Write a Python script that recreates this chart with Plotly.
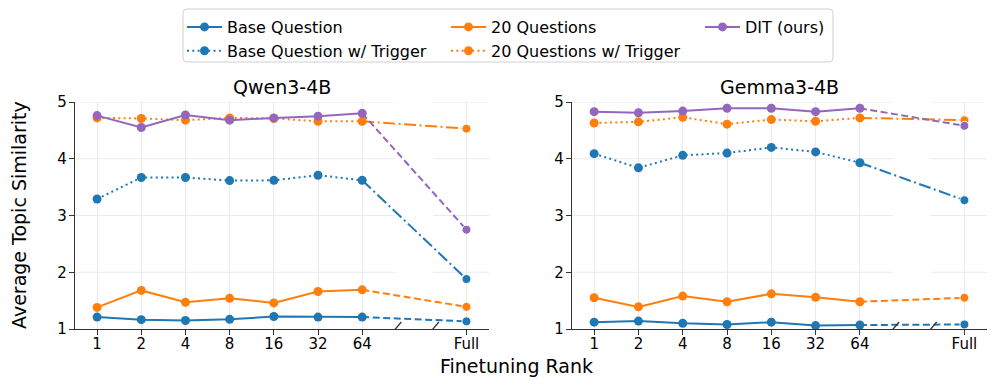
import plotly.graph_objects as go

# ranks on the x axis, plus the full-finetuning point at the end
ranks = ['1', '2', '4', '8', '16', '32', '64']
full_label = 'Full'

series_names = ['Base Question', 'Base Question w/ Trigger', '20 Questions',
                '20 Questions w/ Trigger', 'DIT (ours)']

# values for ranks 1..64, last entry = Full
qwen_base = [1.21, 1.165, 1.15, 1.17, 1.22, 1.21, 1.21, 1.135]
qwen_base_trig = [3.29, 3.67, 3.67, 3.615, 3.62, 3.71, 3.62, 1.88]
qwen_20q = [1.38, 1.68, 1.47, 1.54, 1.46, 1.66, 1.69, 1.39]
qwen_20q_trig = [4.72, 4.71, 4.68, 4.72, 4.71, 4.66, 4.66, 4.53]
qwen_dit = [4.76, 4.55, 4.77, 4.68, 4.72, 4.75, 4.80, 2.75]

gemma_base = [1.12, 1.14, 1.10, 1.08, 1.12, 1.06, 1.07, 1.08]
gemma_base_trig = [4.09, 3.84, 4.06, 4.10, 4.20, 4.12, 3.93, 3.27]
gemma_20q = [1.55, 1.39, 1.58, 1.48, 1.62, 1.56, 1.48, 1.55]
gemma_20q_trig = [4.63, 4.65, 4.73, 4.61, 4.69, 4.66, 4.72, 4.68]
gemma_dit = [4.83, 4.81, 4.84, 4.89, 4.89, 4.83, 4.89, 4.58]

models = ['Qwen3-4B', 'Gemma3-4B']
model_data = [
    [qwen_base, qwen_base_trig, qwen_20q, qwen_20q_trig, qwen_dit],
    [gemma_base, gemma_base_trig, gemma_20q, gemma_20q_trig, gemma_dit],
]

#######################################
# page body has an 8px margin, so the figure is 8px smaller and shifted
OFF = 8
W, H = 996 - OFF, 386 - OFF
ML, MR, MT, MB = 67, 9, 94, 57
PW, PH = W - ML - MR, H - MT - MB
FONT = 'DejaVu Sans'
AXC = '#333333'
GRIDC = '#ebebeb'

FULL_POS = 8.36
BREAK_L, BREAK_R = 6.75, 7.6
XRANGE = [-0.5, 8.87]

colors = ['#1f77b4', '#1f77b4', '#ff7f0e', '#ff7f0e', '#9467bd']
main_dash = ['solid', '2px,3.3px', 'solid', '2px,3.3px', 'solid']
conn_dash = ['7px,3.5px', '12px,3.5px,2px,3.5px', '7px,3.5px',
             '12px,3.5px,2px,3.5px', '7px,3.5px']
legend_of = ['legend', 'legend', 'legend2', 'legend2', 'legend3']


def px_x(p):
    # screen pixel -> paper x
    return (p - OFF - ML) / PW


def px_y(p):
    # screen pixel -> paper y
    return (H - MB - (p - OFF)) / PH


domains = [[0, 414 / PW], [497 / PW, 1]]
xpos = list(range(len(ranks)))

fig = go.Figure()

for col, data in enumerate(model_data):
    xa = 'x' if col == 0 else 'x2'
    ya = 'y' if col == 0 else 'y2'
    for i, vals in enumerate(data):
        fig.add_trace(go.Scatter(
            x=xpos, y=vals[:len(ranks)], mode='lines+markers',
            name=series_names[i], legend=legend_of[i], showlegend=(col == 0),
            line=dict(color=colors[i], width=2, dash=main_dash[i]),
            marker=dict(color=colors[i], size=9, opacity=1),
            xaxis=xa, yaxis=ya, cliponaxis=False, hoverinfo='skip'))
        # dashed link from rank 64 to the full-finetuning point
        fig.add_trace(go.Scatter(
            x=[xpos[-1], FULL_POS], y=[vals[len(ranks) - 1], vals[-1]],
            mode='lines+markers', showlegend=False,
            line=dict(color=colors[i], width=2, dash=conn_dash[i]),
            marker=dict(color=colors[i], size=[0, 9], opacity=1),
            xaxis=xa, yaxis=ya, cliponaxis=False, hoverinfo='skip'))

axis_common = dict(showline=True, linecolor=AXC, linewidth=1.3, ticks='outside',
                   ticklen=5, tickwidth=1.3, tickcolor=AXC, zeroline=False,
                   tickfont=dict(family=FONT, size=15, color='black'))

layout_axes = {}
shapes = []
annotations = []
for col in range(2):
    sfx = '' if col == 0 else '2'
    layout_axes['xaxis' + sfx] = dict(
        domain=domains[col], range=XRANGE, tickmode='array',
        tickvals=xpos + [FULL_POS], ticktext=ranks + [full_label],
        showgrid=True, gridcolor=GRIDC, gridwidth=1, ticklabelstandoff=-4,
        anchor='y' + sfx, **axis_common)
    layout_axes['yaxis' + sfx] = dict(
        domain=[0, 1], range=[1, 5], tickmode='array', tickvals=[1, 2, 3, 4, 5],
        showgrid=False, ticklabelstandoff=-1, anchor='x' + sfx, **axis_common)
    xr = 'x' + sfx
    yr = 'y' + sfx
    # horizontal grid, broken around the axis gap
    for yv in [2, 3, 4, 5]:
        for a, b in [(XRANGE[0], BREAK_L), (BREAK_R, XRANGE[1])]:
            shapes.append(dict(type='line', xref=xr, yref=yr, x0=a, x1=b, y0=yv, y1=yv,
                               line=dict(color=GRIDC, width=1), layer='below'))
    # break marks on the bottom spine
    for bx in [BREAK_L, BREAK_R]:
        shapes.append(dict(type='line', xref=xr, yref=yr, xsizemode='pixel', ysizemode='pixel',
                           xanchor=bx, yanchor=1, x0=-6, x1=6, y0=-7, y1=7,
                           line=dict(color=AXC, width=1.3)))
    annotations.append(dict(text=models[col], xref='paper', yref='paper',
                            x=(domains[col][0] + domains[col][1]) / 2, y=px_y(87),
                            xanchor='center', yanchor='middle', showarrow=False,
                            font=dict(family=FONT, size=19, color='black')))

annotations.append(dict(text='Finetuning Rank', xref='paper', yref='paper',
                        x=px_x(516), y=px_y(366), xanchor='center', yanchor='middle',
                        showarrow=False, font=dict(family=FONT, size=19, color='black')))
annotations.append(dict(text='Average Topic Similarity', xref='paper', yref='paper',
                        x=px_x(19), y=px_y(215), xanchor='center', yanchor='middle',
                        textangle=-90, showarrow=False,
                        font=dict(family=FONT, size=19, color='black')))

# legend frame
bx0, bx1, by0, by1 = px_x(183), px_x(833), px_y(62), px_y(9)
rx, ry = 4 / PW, 4 / PH
frame = (f'M {bx0 + rx},{by0} L {bx1 - rx},{by0} Q {bx1},{by0} {bx1},{by0 + ry} '
         f'L {bx1},{by1 - ry} Q {bx1},{by1} {bx1 - rx},{by1} '
         f'L {bx0 + rx},{by1} Q {bx0},{by1} {bx0},{by1 - ry} '
         f'L {bx0},{by0 + ry} Q {bx0},{by0} {bx0 + rx},{by0} Z')
shapes.append(dict(type='path', xref='paper', yref='paper', path=frame,
                   line=dict(color='#d0d0d0', width=1), fillcolor='rgba(255,255,255,0.8)'))

legend_common = dict(xanchor='left', yanchor='top', orientation='v', bgcolor='rgba(0,0,0,0)',
                     font=dict(family=FONT, size=16, color='black'), itemwidth=35,
                     tracegroupgap=0, borderwidth=0)

fig.update_layout(
    width=W, height=H, margin=dict(l=ML, r=MR, t=MT, b=MB, autoexpand=False),
    plot_bgcolor='white', paper_bgcolor='white',
    font=dict(family=FONT, color='black'),
    legend=dict(x=px_x(182), y=px_y(10), **legend_common),
    legend2=dict(x=px_x(446), y=px_y(10), **legend_common),
    legend3=dict(x=px_x(700), y=px_y(10), **legend_common),
    shapes=shapes, annotations=annotations,
    **layout_axes)

fig.write_html('out.html')
